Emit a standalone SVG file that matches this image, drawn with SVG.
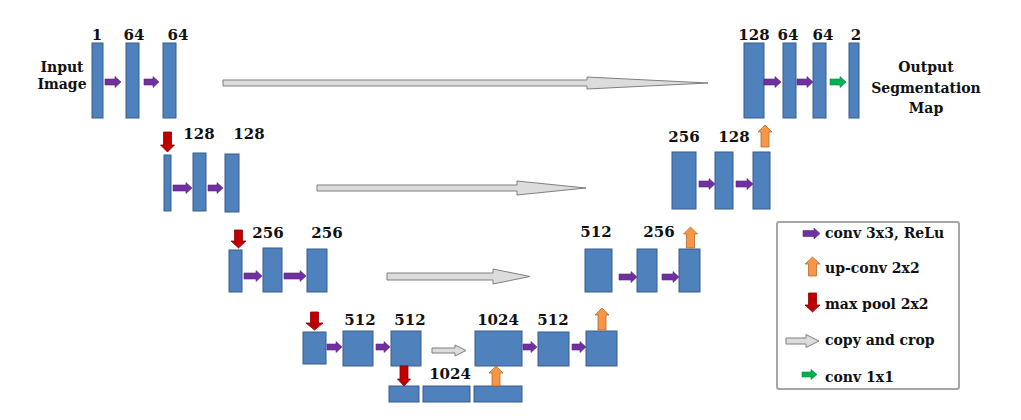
<svg xmlns="http://www.w3.org/2000/svg" width="1021" height="420" viewBox="0 0 1021 420">
<style>
.b{fill:#4F81BD;stroke:#385D8A;stroke-width:1}
.t{font-family:"DejaVu Serif","Liberation Serif",serif;font-weight:bold;fill:#111;text-anchor:middle}
.n{font-size:15px}
.l{font-size:14px}
.lg{font-family:"DejaVu Serif","Liberation Serif",serif;font-weight:bold;font-size:14px;fill:#111}
.p{fill:#7030A0;stroke:#5A2680;stroke-width:0.6}
.g{fill:#00B050;stroke:#008A3E;stroke-width:0.6}
.o{fill:#F79646;stroke:#B66A2C;stroke-width:0.8}
.r{fill:#C00000;stroke:#8A0000;stroke-width:0.8}
.c{fill:#DCDCDC;stroke:#7F7F7F;stroke-width:1}
</style>
<rect width="1021" height="420" fill="#fff"/>

<g id="input-label">
<text class="t l" x="62" y="72">Input</text>
<text class="t l" x="62" y="89">Image</text>
</g>
<g id="output-label">
<text class="t l" x="926" y="72">Output</text>
<text class="t l" x="926" y="93">Segmentation</text>
<text class="t l" x="926" y="113">Map</text>
</g>

<g id="enc1a"><rect class="b" x="92" y="43" width="11" height="75"/><text class="t n" x="97" y="40">1</text></g>
<g id="enc1b"><rect class="b" x="126" y="43" width="13" height="75"/><text class="t n" x="134" y="40">64</text></g>
<g id="enc1c"><rect class="b" x="163" y="43" width="13" height="75"/><text class="t n" x="178" y="40">64</text></g>

<g id="enc2a"><rect class="b" x="164" y="155" width="7" height="56"/></g>
<g id="enc2b"><rect class="b" x="193" y="153" width="13" height="58"/><text class="t n" x="199" y="139">128</text></g>
<g id="enc2c"><rect class="b" x="225" y="154" width="14" height="58"/><text class="t n" x="249" y="139">128</text></g>

<g id="enc3a"><rect class="b" x="229" y="250" width="13" height="42"/></g>
<g id="enc3b"><rect class="b" x="263" y="248" width="19" height="44"/><text class="t n" x="268" y="238">256</text></g>
<g id="enc3c"><rect class="b" x="307" y="249" width="20" height="43"/><text class="t n" x="327" y="238">256</text></g>

<g id="enc4a"><rect class="b" x="303" y="332" width="23" height="32"/></g>
<g id="enc4b"><rect class="b" x="343" y="331" width="30" height="35"/><text class="t n" x="360" y="325">512</text></g>
<g id="enc4c"><rect class="b" x="391" y="331" width="30" height="35"/><text class="t n" x="410" y="325">512</text></g>

<g id="bot1"><rect class="b" x="389" y="386" width="30" height="16"/></g>
<g id="bot2"><rect class="b" x="423" y="386" width="47" height="16"/><text class="t n" x="450" y="379">1024</text></g>
<g id="bot3"><rect class="b" x="474" y="386" width="48" height="16"/></g>

<g id="dec4a"><rect class="b" x="475" y="331" width="47" height="35"/><text class="t n" x="498" y="325">1024</text></g>
<g id="dec4b"><rect class="b" x="538" y="332" width="31" height="34"/><text class="t n" x="553" y="325">512</text></g>
<g id="dec4c"><rect class="b" x="586" y="331" width="31" height="35"/></g>

<g id="dec3a"><rect class="b" x="585" y="249" width="27" height="43"/><text class="t n" x="596" y="237">512</text></g>
<g id="dec3b"><rect class="b" x="637" y="249" width="20" height="43"/><text class="t n" x="659" y="237">256</text></g>
<g id="dec3c"><rect class="b" x="679" y="249" width="21" height="43"/></g>

<g id="dec2a"><rect class="b" x="672" y="152" width="24" height="57"/><text class="t n" x="684" y="142">256</text></g>
<g id="dec2b"><rect class="b" x="715" y="152" width="18" height="57"/><text class="t n" x="734" y="142">128</text></g>
<g id="dec2c"><rect class="b" x="753" y="152" width="17" height="57"/></g>

<g id="dec1a"><rect class="b" x="744" y="43" width="20" height="75"/><text class="t n" x="754" y="40">128</text></g>
<g id="dec1b"><rect class="b" x="783" y="43" width="13" height="75"/><text class="t n" x="788" y="40">64</text></g>
<g id="dec1c"><rect class="b" x="813" y="43" width="13" height="75"/><text class="t n" x="823" y="40">64</text></g>
<g id="dec1d"><rect class="b" x="849" y="43" width="10" height="75"/><text class="t n" x="856" y="40">2</text></g>

<g id="connectors">
<!-- conv 3x3 -->
<path class="p" d="M105 79H115V76.5L121 82L115 87.5V85H105Z"/>
<path class="p" d="M144 79H153V76.5L159 82L153 87.5V85H144Z"/>
<path class="p" d="M173 185H186V182.5L192 188L186 193.5V191H173Z"/>
<path class="p" d="M208 185H217V182.5L223 188L217 193.5V191H208Z"/>
<path class="p" d="M244 273H256V270.5L262 276L256 281.5V279H244Z"/>
<path class="p" d="M284 273H300V270.5L306 276L300 281.5V279H284Z"/>
<path class="p" d="M327 344H336V341.5L342 347L336 352.5V350H327Z"/>
<path class="p" d="M376 344H384V341.5L390 347L384 352.5V350H376Z"/>
<path class="p" d="M523 344H531V341.5L537 347L531 352.5V350H523Z"/>
<path class="p" d="M572 344H580V341.5L586 347L580 352.5V350H572Z"/>
<path class="p" d="M619 274H631V271.5L637 277L631 282.5V280H619Z"/>
<path class="p" d="M662 274H673V271.5L679 277L673 282.5V280H662Z"/>
<path class="p" d="M699 181H709V178.5L715 184L709 189.5V187H699Z"/>
<path class="p" d="M736 181H747V178.5L753 184L747 189.5V187H736Z"/>
<path class="p" d="M764 79H775V76.5L781 82L775 87.5V85H764Z"/>
<path class="p" d="M797 79H807V76.5L813 82L807 87.5V85H797Z"/>
<!-- conv 1x1 -->
<path class="g" d="M830 79H840V76.5L846 82L840 87.5V85H830Z"/>
<!-- max pool -->
<path class="r" d="M163.5 132H171.5V145H174.5L167.5 152L160.5 145H163.5Z"/>
<path class="r" d="M234.5 230H242.5V241H246L238.5 248L231 241H234.5Z"/>
<path class="r" d="M310.5 312H318.5V323H323L314.5 330L306 323H310.5Z"/>
<path class="r" d="M400 366H408V379H410.5L404 386L397.5 379H400Z"/>
<!-- up-conv -->
<path class="o" d="M492 386V373H489L496 366L503 373H500V386Z"/>
<path class="o" d="M598 330V315H595L602 308L609 315H606V330Z"/>
<path class="o" d="M686.5 248V234H683.5L690.5 227L697.5 234H694.5V248Z"/>
<path class="o" d="M761 147V132H758L765 125L772 132H769V147Z"/>
<!-- copy and crop -->
<path class="c" d="M223 80H587V77L708 83L587 89V86H223Z"/>
<path class="c" d="M317 185H517V181L586 188L517 195V191H317Z"/>
<path class="c" d="M387 273H493V269L530 276.5L493 284V280H387Z"/>
<path class="c" d="M432 348H455V345L466 350.5L455 356V353H432Z"/>
</g>

<g id="legend">
<rect x="777" y="222" width="182" height="167" rx="2" fill="#fff" stroke="#A6A6A6" stroke-width="2"/>
<path class="p" d="M803 230.5H814V228L820 233.5L814 239V236.5H803Z"/>
<text class="lg" x="825" y="238">conv 3x3, ReLu</text>
<path class="o" d="M808.5 276V264H805L812.5 257L820 264H816.5V276Z"/>
<text class="lg" x="825" y="273">up-conv 2x2</text>
<path class="r" d="M808.5 293H816.5V305H820L812.5 312L805 305H808.5Z"/>
<text class="lg" x="825" y="309">max pool 2x2</text>
<path class="c" d="M786 338H806V334.5L819 341L806 347.5V344H786Z"/>
<text class="lg" x="825" y="345">copy and crop</text>
<path class="g" d="M802 372H811V369.5L817 374.5L811 379.5V377H802Z"/>
<text class="lg" x="825" y="382">conv 1x1</text>
</g>
</svg>
